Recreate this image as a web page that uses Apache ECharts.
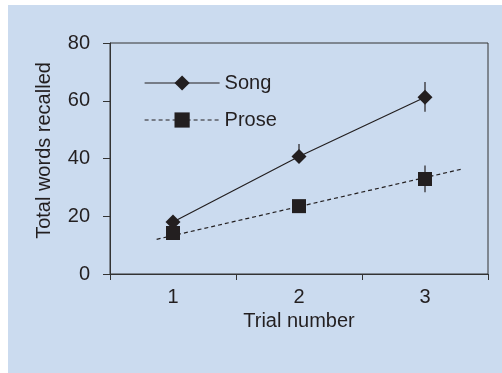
<!DOCTYPE html>
<html>
<head>
<meta charset="utf-8">
<script src="https://cdn.jsdelivr.net/npm/echarts@6/dist/echarts.min.js"></script>
<style>
  html, body { margin: 0; padding: 0; background: #ffffff; }
  #chart { position: absolute; left: 8px; top: 5px; width: 494px; height: 368px; }
</style>
</head>
<body>
<div id="chart"></div>
<script>
// data
const trials = [1, 2, 3];
const songMean = [18, 40.7, 61.2];
const songLow = [18, 40.7, 56.2];
const songHigh = [18, 45, 66.5];
const proseMean = [14.2, 23.5, 32.9];
const proseLow = [14.2, 23.5, 28.3];
const proseHigh = [14.2, 23.5, 37.6];
// dashed fit line for prose (ends)
const proseFitX = [0.87, 3.3];
const proseFitY = [12.0, 36.4];

const ink = '#231f20';
const font = 'Liberation Sans, Arial, sans-serif';

const myChart = echarts.init(document.getElementById('chart'));

const pairs = (xs, ys) => xs.map((x, i) => [x, ys[i]]);
const bars = (lo, hi) => trials.map((x, i) => [x, lo[i], hi[i]]);

function errorBar(params, api) {
  const p1 = api.coord([api.value(0), api.value(1)]);
  const p2 = api.coord([api.value(0), api.value(2)]);
  return {
    type: 'line',
    shape: { x1: p1[0], y1: p1[1], x2: p2[0], y2: p2[1] },
    style: { stroke: ink, lineWidth: 1.2 }
  };
}

const option = {
  backgroundColor: '#cbdbef',
  animation: false,
  textStyle: { fontFamily: font },
  grid: {
    left: 102, top: 38, right: 14, bottom: 99,
    show: true, borderColor: '#333', borderWidth: 1
  },
  legend: {
    orient: 'vertical',
    left: 136, top: 68,
    padding: 0,
    itemWidth: 75, itemHeight: 19, itemGap: 17,
    textStyle: { fontSize: 20, color: ink, fontFamily: font },
    data: [
      { name: 'Song', lineStyle: { opacity: 1, width: 1.2, color: ink } },
      { name: 'Prose', lineStyle: { opacity: 1, width: 1.2, color: ink, type: [4, 3] } }
    ]
  },
  xAxis: {
    type: 'value',
    min: 0.5, max: 3.5,
    name: 'Trial number',
    nameLocation: 'middle',
    nameGap: 36,
    nameTextStyle: { fontSize: 20, color: ink },
    axisLine: { lineStyle: { color: '#333' } },
    axisTick: { inside: false, length: 6, customValues: [0.5, 1.5, 2.5, 3.5], lineStyle: { color: '#333' } },
    axisLabel: { customValues: trials, fontSize: 20, color: ink, margin: 13 },
    splitLine: { show: false }
  },
  yAxis: {
    type: 'value',
    min: 0, max: 80, interval: 20,
    name: 'Total words recalled',
    nameLocation: 'middle',
    nameGap: 56,
    nameTextStyle: { fontSize: 20, color: ink, padding: [0, 0, 0, 16] },
    axisLine: { show: true, lineStyle: { color: '#333' } },
    axisTick: { show: true, length: 7, lineStyle: { color: '#333' } },
    axisLabel: { fontSize: 20, color: ink, margin: 20 },
    splitLine: { show: false }
  },
  series: [
    {
      type: 'custom',
      renderItem: errorBar,
      data: bars(songLow, songHigh),
      silent: true,
      z: 1
    },
    {
      type: 'custom',
      renderItem: errorBar,
      data: bars(proseLow, proseHigh),
      silent: true,
      z: 1
    },
    {
      name: 'Prose fit',
      type: 'line',
      data: pairs(proseFitX, proseFitY),
      symbol: 'none',
      lineStyle: { color: ink, width: 1.2, type: [4, 3] },
      silent: true,
      z: 2
    },
    {
      name: 'Song',
      type: 'line',
      data: pairs(trials, songMean),
      symbol: 'diamond',
      symbolSize: 15,
      itemStyle: { color: ink },
      lineStyle: { color: ink, width: 1.2 },
      z: 3
    },
    {
      name: 'Prose',
      type: 'line',
      data: pairs(trials, proseMean),
      symbol: 'rect',
      symbolSize: 14,
      itemStyle: { color: ink },
      lineStyle: { color: ink, width: 0, opacity: 0 },
      z: 4
    }
  ]
};

myChart.setOption(option);
window.addEventListener('resize', () => myChart.resize());
</script>
</body>
</html>
